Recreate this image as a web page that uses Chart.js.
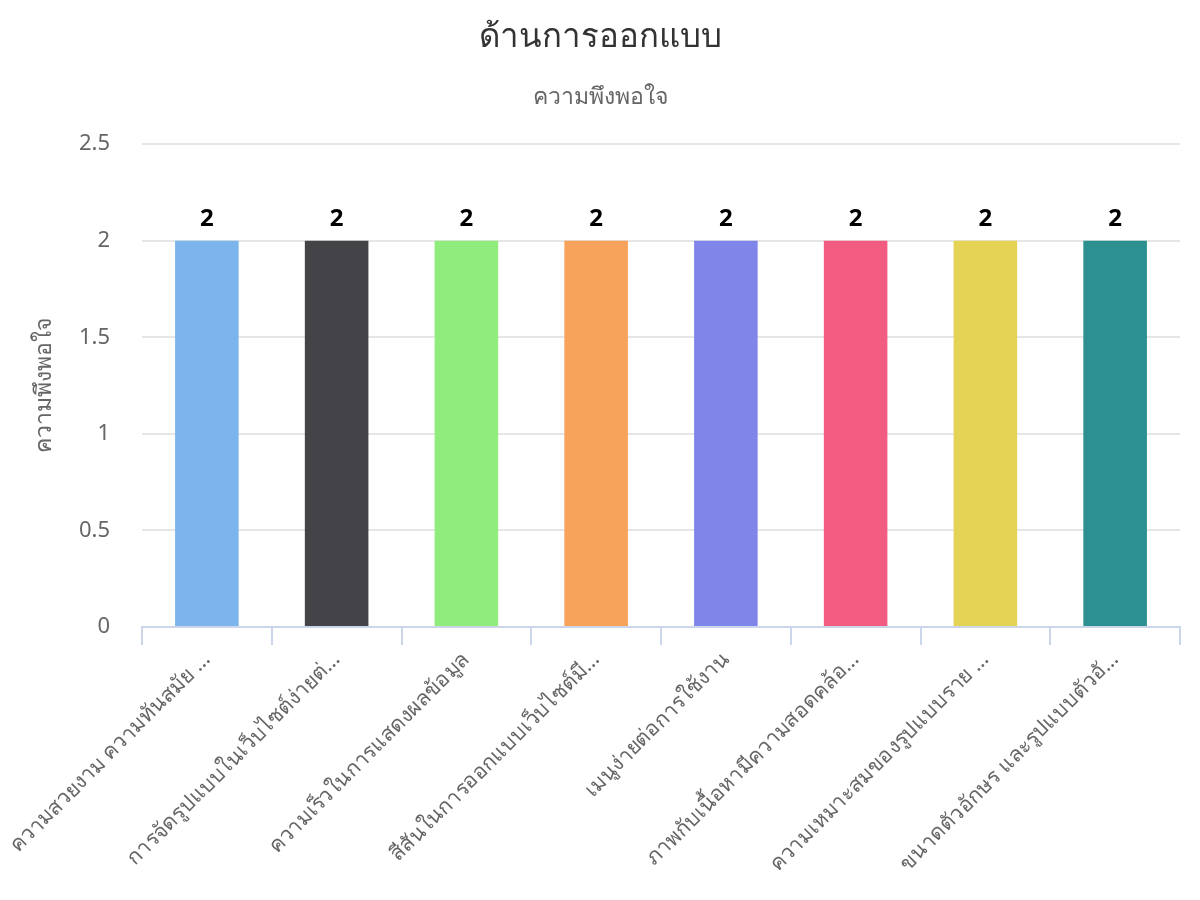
<!DOCTYPE html>
<html>
<head>
<meta charset="utf-8">
<script src="https://cdn.jsdelivr.net/npm/chart.js@4/dist/chart.umd.min.js"></script>
<style>
  html, body { margin: 0; padding: 0; background: #ffffff; }
  #wrap { width: 1200px; height: 900px; position: relative; }
</style>
</head>
<body>
<div id="wrap"><canvas id="c" width="1200" height="900"></canvas></div>
<script>
const chartTitle = 'ด้านการออกแบบ';
const chartSubtitle = 'ความพึงพอใจ';
const yAxisTitle = 'ความพึงพอใจ';
const categories = [
  'ความสวยงาม ความทันสมัย …',
  'การจัดรูปแบบในเว็บไซต์ง่ายต่…',
  'ความเร็วในการแสดงผลข้อมูล',
  'สีสันในการออกแบบเว็บไซต์มี…',
  'เมนูง่ายต่อการใช้งาน',
  'ภาพกับเนื้อหามีความสอดคล้อ…',
  'ความเหมาะสมของรูปแบบราย …',
  'ขนาดตัวอักษร และรูปแบบตัวอั…'
];
const values = [2, 2, 2, 2, 2, 2, 2, 2];
const barColors = ['#7cb5ec', '#434348', '#90ed7d', '#f7a35c', '#8085e9', '#f15c80', '#e4d354', '#2b908f'];
const yTicks = [0, 0.5, 1, 1.5, 2, 2.5];

const FONT = "'Noto Sans', 'DejaVu Sans', sans-serif";

const valueLabels = {
  id: 'valueLabels',
  afterDatasetsDraw(chart) {
    const ctx = chart.ctx;
    ctx.save();
    ctx.font = 'bold 24px ' + FONT;
    ctx.fillStyle = '#000000';
    ctx.textAlign = 'center';
    ctx.textBaseline = 'alphabetic';
    chart.getDatasetMeta(0).data.forEach((bar, i) => {
      ctx.fillText(String(values[i]), bar.x, bar.y - 15);
    });
    ctx.restore();
  }
};

new Chart(document.getElementById('c'), {
  type: 'bar',
  data: {
    labels: categories,
    datasets: [{
      data: values,
      backgroundColor: barColors,
      borderWidth: 0,
      categoryPercentage: 1,
      barPercentage: 0.49
    }]
  },
  options: {
    responsive: false,
    animation: false,
    devicePixelRatio: 1,
    layout: { padding: { left: 0, right: 0, top: 8, bottom: 10 } },
    plugins: {
      legend: { display: false },
      tooltip: { enabled: false },
      title: {
        display: true,
        text: chartTitle,
        color: '#333333',
        font: { family: FONT, size: 33, weight: 'normal' },
        padding: { top: 10, bottom: 26 }
      },
      subtitle: {
        display: true,
        text: chartSubtitle,
        color: '#666666',
        font: { family: FONT, size: 23 },
        padding: { top: 0, bottom: 33 }
      }
    },
    scales: {
      x: {
        offset: true,
        afterFit(axis) { axis.height = 263; axis.paddingLeft = 0; axis.paddingRight = 0; },
        grid: {
          display: true,
          offset: true,
          drawOnChartArea: false,
          drawTicks: true,
          tickLength: 18,
          color: '#ccd6eb',
          lineWidth: 2
        },
        border: { display: true, color: '#ccd6eb', width: 2 },
        ticks: {
          color: '#666666',
          font: { family: FONT, size: 21.3 },
          minRotation: 45,
          maxRotation: 45,
          autoSkip: false,
          padding: 2,
          labelOffset: 0
        }
      },
      y: {
        min: 0,
        max: 2.5,
        afterFit(axis) { axis.width = 142; },
        afterBuildTicks(axis) { axis.ticks = yTicks.map(v => ({ value: v })); },
        grid: { color: '#e6e6e6', lineWidth: 2, drawTicks: false },
        border: { display: false },
        ticks: {
          color: '#666666',
          font: { family: FONT, size: 22 },
          padding: 32,
          callback: v => String(v)
        },
        title: {
          display: true,
          text: yAxisTitle,
          color: '#666666',
          font: { family: FONT, size: 23 },
          padding: { top: 31, bottom: 0 }
        }
      },
      yRight: {
        position: 'right',
        display: true,
        afterFit(axis) { axis.width = 20; },
        grid: { display: false, drawTicks: false },
        border: { display: false },
        ticks: { display: false }
      }
    }
  },
  plugins: [valueLabels]
});
</script>
</body>
</html>
